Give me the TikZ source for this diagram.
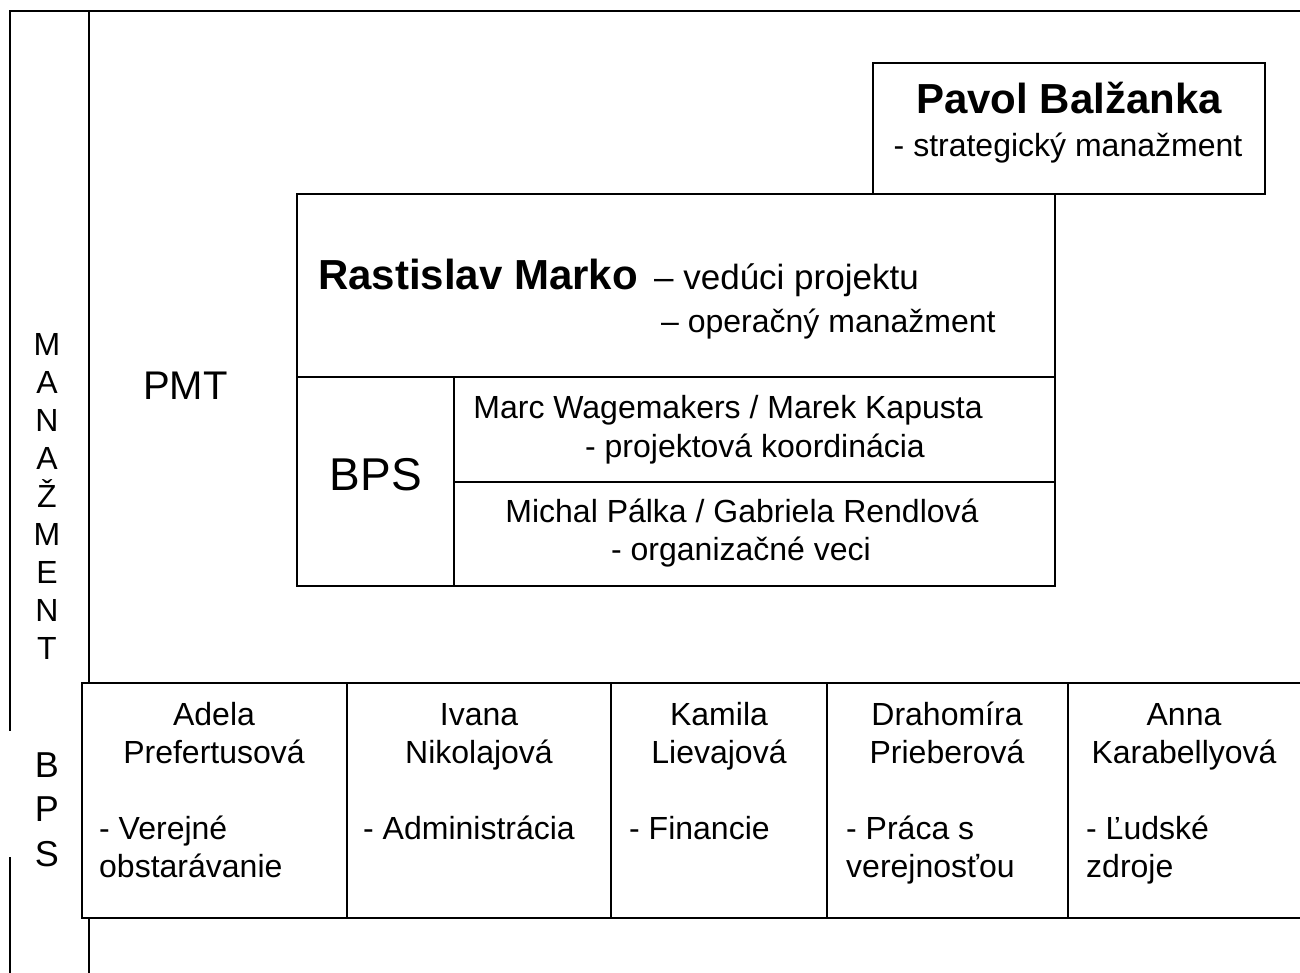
\documentclass[tikz,border=0pt]{standalone}
\usepackage{fontspec}
\setmainfont{Liberation Sans}
\begin{document}
\begin{tikzpicture}[x=1pt,y=-1pt,
  rule/.style={line width=2.8pt, black, line cap=rect},
  body/.style={inner sep=0pt, font=\fontsize{32}{38}\selectfont},
  bodyc/.style={body, anchor=base},
  bodyl/.style={body, anchor=base west},
  big/.style={inner sep=0pt, anchor=base, font=\fontsize{42}{48}\bfseries\selectfont}]
\useasboundingbox (0,0) rectangle (1300,972);
% outer frame
\draw[rule] (1305,11) -- (10,11) -- (10,730);
\draw[rule] (10,858) -- (10,975);
\draw[rule] (89,11) -- (89,683);
\draw[rule] (89,918) -- (89,975);
% vertical labels
\foreach \c [count=\i from 0] in {M,A,N,A,Ž,M,E,N,T}
  \node[bodyc] (man\i) at (47,{355.5+38*\i}) {\c};
\foreach \c [count=\i from 0] in {B,P,S}
  \node[inner sep=0pt, anchor=base, font=\fontsize{36}{44}\selectfont] (bpsv\i) at (47,{777+44.5*\i}) {\c};
% Pavol box
\draw[rule] (873,63) rectangle (1265,194);
\node[big] (pavol) at (1069,113) {Pavol Balžanka};
\node[bodyc] (pavolrole) at (1068,156) {- strategický manažment};
% Rastislav box
\draw[rule] (297,194) rectangle (1055,586);
\draw[rule] (297,377) -- (1055,377);
\draw[rule] (454,377) -- (454,586);
\draw[rule] (454,482) -- (1055,482);
\node[big, anchor=base west] (rastislav) at (318,289) {Rastislav Marko};
\node[inner sep=0pt, anchor=base west, font=\fontsize{35}{40}\selectfont] (rrole1) at (654,289) {– vedúci projektu};
\node[bodyl] (rrole2) at (661,332) {– operačný manažment};
\node[inner sep=0pt, anchor=base west, font=\fontsize{40}{46}\selectfont] (pmt) at (143,399) {PMT};
\node[inner sep=0pt, anchor=base, font=\fontsize{46}{52}\selectfont] (bps) at (376,490) {BPS};
\node[bodyc] (marc) at (728,418) {Marc Wagemakers / Marek Kapusta};
\node[bodyc] (marcrole) at (755,457) {- projektová koordinácia};
\node[bodyc] (michal) at (742,522) {Michal Pálka / Gabriela Rendlová};
\node[bodyc] (michalrole) at (741,560) {- organizačné veci};
% bottom row
\draw[rule] (1305,683) -- (82,683) -- (82,918) -- (1305,918);
\foreach \x in {347,611,827,1068}
  \draw[rule] (\x,683) -- (\x,918);
\node[bodyc] (a1) at (214,725) {Adela};
\node[bodyc] (a2) at (214,763) {Prefertusová};
\node[bodyl] (a3) at (99,839) {- Verejné};
\node[bodyl] (a4) at (99,877) {obstarávanie};
\node[bodyc] (b1) at (479,725) {Ivana};
\node[bodyc] (b2) at (479,763) {Nikolajová};
\node[bodyl] (b3) at (363,839) {- Administrácia};
\node[bodyc] (c1) at (719,725) {Kamila};
\node[bodyc] (c2) at (719,763) {Lievajová};
\node[bodyl] (c3) at (629,839) {- Financie};
\node[bodyc] (d1) at (947,725) {Drahomíra};
\node[bodyc] (d2) at (947,763) {Prieberová};
\node[bodyl] (d3) at (846,839) {- Práca s};
\node[bodyl] (d4) at (846,877) {verejnosťou};
\node[bodyc] (e1) at (1184,725) {Anna};
\node[bodyc] (e2) at (1184,763) {Karabellyová};
\node[bodyl] (e3) at (1086,839) {- Ľudské};
\node[bodyl] (e4) at (1086,877) {zdroje};
\end{tikzpicture}
\end{document}
